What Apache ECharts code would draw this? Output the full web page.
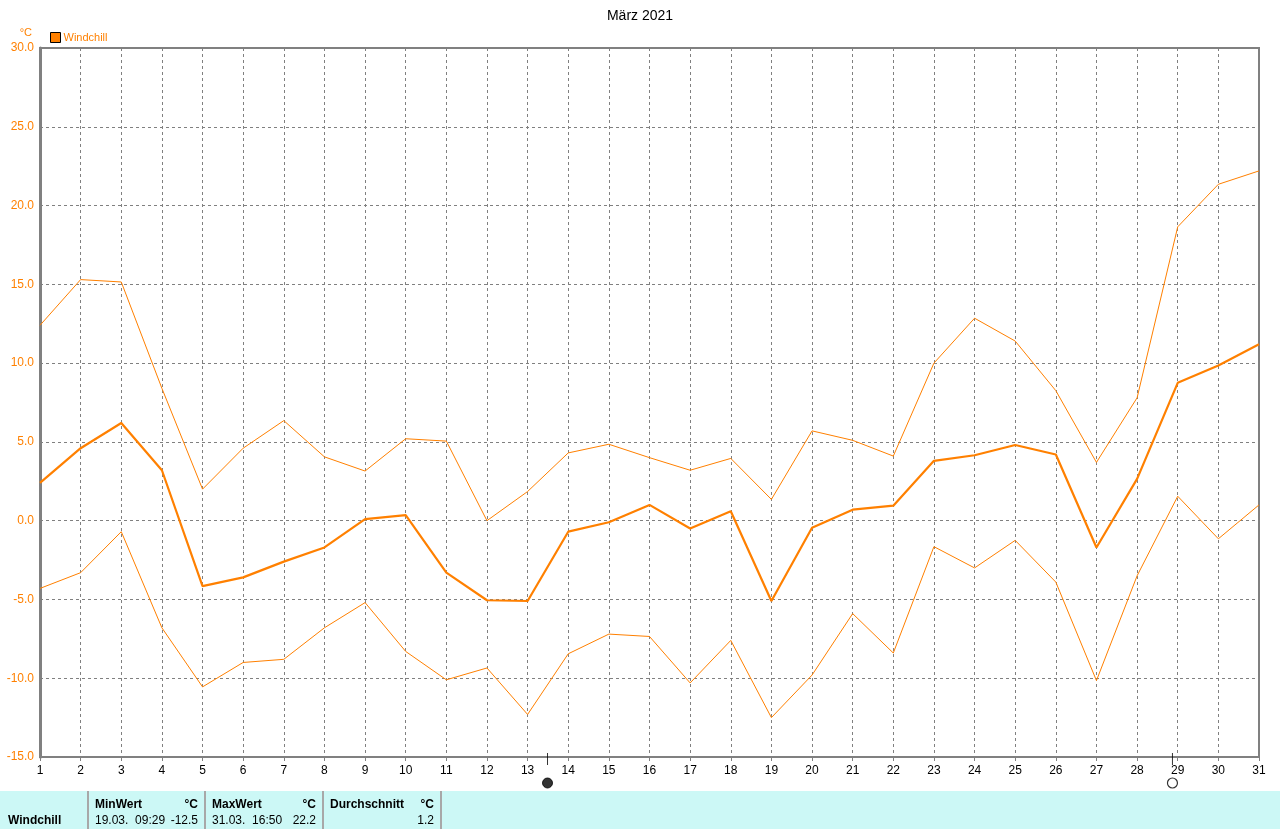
<!DOCTYPE html>
<html>
<head>
<meta charset="utf-8">
<script src="https://cdn.jsdelivr.net/npm/echarts@6/dist/echarts.min.js"></script>
<style>
html,body{margin:0;padding:0;background:#fff;}
#chart{width:1280px;height:829px;}
</style>
</head>
<body>
<div id="chart"></div>
<script>
// ---- data ----
const days = [1,2,3,4,5,6,7,8,9,10,11,12,13,14,15,16,17,18,19,20,21,22,23,24,25,26,27,28,29,30,31];
const windchillAvg = [2.4,4.6,6.2,3.2,-4.15,-3.6,-2.6,-1.7,0.1,0.35,-3.3,-5.05,-5.1,-0.7,-0.1,1.0,-0.5,0.6,-5.1,-0.45,0.7,0.95,3.8,4.15,4.8,4.2,-1.7,2.65,8.75,9.85,11.2];
const windchillMax = [12.4,15.3,15.15,8.4,2.0,4.6,6.35,4.05,3.15,5.2,5.05,0.0,1.85,4.3,4.85,4.0,3.2,3.95,1.35,5.7,5.1,4.1,10.0,12.85,11.4,8.25,3.7,7.8,18.65,21.35,22.2];
const windchillMin = [-4.3,-3.3,-0.7,-6.8,-10.55,-9.0,-8.8,-6.8,-5.2,-8.3,-10.1,-9.35,-12.3,-8.45,-7.2,-7.35,-10.3,-7.6,-12.5,-9.8,-5.9,-8.4,-1.65,-3.0,-1.25,-3.9,-10.15,-3.5,1.55,-1.15,1.0];
const yTicks = [-15,-10,-5,0,5,10,15,20,25,30];
const moonDays = [13.49, 28.87];          // new moon, full moon
const moonTypes = ['new','full'];
const title = 'März 2021';
const seriesName = 'Windchill';
const unit = '°C';
const statHeaders = ['MinWert','MaxWert','Durchschnitt'];
const statTimes = ['19.03.  09:29','31.03.  16:50',''];
const statValues = ['-12.5','22.2','1.2'];

// ---- chart ----
const ORANGE = '#ff8000';
const GRAY = '#808080';
const FONT = 'Liberation Sans, Arial, sans-serif';
const chart = echarts.init(document.getElementById('chart'), null, {renderer:'canvas'});

const zip = arr => days.map((d,i)=>[d, arr[i]]);

const colX = [88, 205, 323, 441];
const graphics = [
  {type:'rect', left:0, top:791, shape:{x:0,y:0,width:1280,height:38}, style:{fill:'#ccf8f6'}, z:0},
  {type:'text', left:8, top:815, style:{text:seriesName, font:'bold 12px '+FONT, fill:'#000'}}
];
colX.forEach(x=>{
  graphics.push({type:'rect', shape:{x:x-1,y:791,width:2,height:38}, style:{fill:'#a8a8a8'}});
});
statHeaders.forEach((h,i)=>{
  const x0 = colX[i], x1 = colX[i+1];
  graphics.push({type:'text', x:x0+7, y:799, style:{text:h, font:'bold 12px '+FONT, fill:'#000'}});
  graphics.push({type:'text', x:x1-7, y:799, style:{text:unit, font:'bold 12px '+FONT, fill:'#000', align:'right'}});
  if (statTimes[i]) graphics.push({type:'text', x:x0+7, y:815, style:{text:statTimes[i], font:'12px '+FONT, fill:'#000'}});
  graphics.push({type:'text', x:x1-7, y:815, style:{text:statValues[i], font:'12px '+FONT, fill:'#000', align:'right'}});
});

const option = {
  animation:false,
  backgroundColor:'#fff',
  title:{text:title, left:'center', top:4, textStyle:{fontFamily:FONT, fontSize:14, fontWeight:'normal', color:'#000'}},
  legend:{
    data:[{name:seriesName, icon:'rect', itemStyle:{color:ORANGE, borderColor:'#000', borderWidth:1}}],
    left:45, top:27, itemWidth:10, itemHeight:10, itemGap:4,
    textStyle:{color:ORANGE, fontSize:11, fontFamily:FONT, padding:[0,0,0,-2]}
  },
  grid:{left:40, right:21, top:48, bottom:72, show:true, borderColor:GRAY, borderWidth:2, backgroundColor:'transparent'},
  xAxis:{
    type:'value', min:1, max:31, interval:1,
    axisLine:{show:true, onZero:false, lineStyle:{color:GRAY, width:2}},
    axisTick:{show:true, length:4, lineStyle:{color:GRAY}},
    axisLabel:{color:'#000', fontSize:12, fontFamily:FONT, margin:8},
    splitLine:{show:true, lineStyle:{color:GRAY, type:[3,3], width:1}}
  },
  yAxis:{
    type:'value', min:yTicks[0], max:yTicks[yTicks.length-1], interval:5,
    name:unit, nameLocation:'end', nameGap:10,
    nameTextStyle:{color:ORANGE, fontSize:11, fontFamily:FONT, align:'right', padding:[0,8,0,0]},
    axisLine:{show:true, onZero:false, lineStyle:{color:GRAY, width:3}},
    axisTick:{show:false},
    axisLabel:{color:ORANGE, fontSize:12, fontFamily:FONT, margin:6, formatter:v=>v.toFixed(1)},
    splitLine:{show:true, lineStyle:{color:GRAY, type:[3,3], width:1}}
  },
  series:[
    {name:seriesName+' max', type:'line', data:zip(windchillMax), showSymbol:false, lineStyle:{color:ORANGE, width:1}, itemStyle:{color:ORANGE}, z:3},
    {name:seriesName+' min', type:'line', data:zip(windchillMin), showSymbol:false, lineStyle:{color:ORANGE, width:1}, itemStyle:{color:ORANGE}, z:3},
    {name:seriesName, type:'line', data:zip(windchillAvg), showSymbol:false, lineStyle:{color:ORANGE, width:2.2}, itemStyle:{color:ORANGE}, z:4},
    {type:'scatter', data:moonDays.map(d=>[d, yTicks[0]]), symbol:'rect', symbolSize:[1,12], symbolOffset:[0,2], itemStyle:{color:'#000'}, clip:false, silent:true, z:6},
    {type:'scatter', data:moonDays.map((d,i)=>({value:[d, yTicks[0]], itemStyle: moonTypes[i]==='new' ? {color:'#000', borderColor:'#000', borderWidth:1} : {color:'#fff', borderColor:'#000', borderWidth:1.2}})),
      symbol:'circle', symbolSize:10, symbolOffset:[0,26], clip:false, silent:true, z:6}
  ],
  graphic:graphics
};
chart.setOption(option);
</script>
</body>
</html>
